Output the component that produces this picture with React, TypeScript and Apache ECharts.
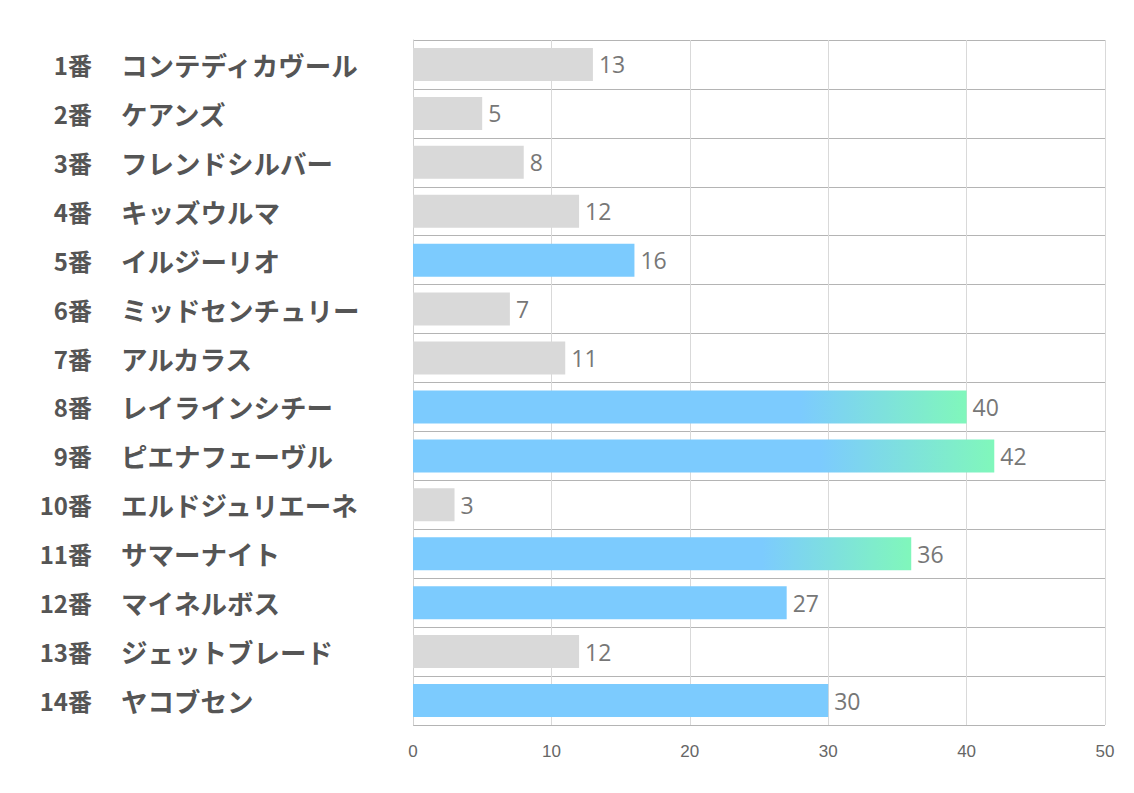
import React, { useEffect, useRef } from "react";
import * as echarts from "echarts";

const numbers = ["1番", "2番", "3番", "4番", "5番", "6番", "7番", "8番", "9番", "10番", "11番", "12番", "13番", "14番"];
const names = ["コンテディカヴール", "ケアンズ", "フレンドシルバー", "キッズウルマ", "イルジーリオ", "ミッドセンチュリー", "アルカラス", "レイラインシチー", "ピエナフェーヴル", "エルドジュリエーネ", "サマーナイト", "マイネルボス", "ジェットブレード", "ヤコブセン"];
const values = [13, 5, 8, 12, 16, 7, 11, 40, 42, 3, 36, 27, 12, 30];
const kinds = ["gray", "gray", "gray", "gray", "blue", "gray", "gray", "grad", "grad", "gray", "grad", "blue", "gray", "blue"];
const xTicks = [0, 10, 20, 30, 40, 50];

const GRAY = "#d9d9d9";
const BLUE = "#7ccbfe";
const GREEN = "#80f7bb";

export default function App() {
  const ref = useRef<HTMLDivElement>(null);
  useEffect(() => {
    const chart = echarts.init(ref.current!, null, { renderer: "svg" });
    const colorFor = (k: string) =>
      k === "gray"
        ? GRAY
        : k === "blue"
        ? BLUE
        : new echarts.graphic.LinearGradient(0, 0, 1, 0, [
            { offset: 0, color: BLUE },
            { offset: 0.7, color: BLUE },
            { offset: 1, color: GREEN },
          ]);
    const labelFont = { fontWeight: "bold", color: "#555", fontFamily: "Noto Sans CJK JP" };
    chart.setOption({
      animation: false,
      grid: { left: 413, right: 29, top: 40, bottom: 68, containLabel: false },
      xAxis: {
        type: "value",
        min: xTicks[0],
        max: xTicks[xTicks.length - 1],
        interval: 10,
        axisLine: { show: false },
        axisTick: { show: false },
        axisLabel: { color: "#666", fontSize: 17, margin: 18, fontFamily: "Liberation Sans Narrow, Liberation Sans, sans-serif" },
        splitLine: { show: true, lineStyle: { color: "#d9d9d9", width: 1 } },
      },
      yAxis: [
        {
          type: "category",
          inverse: true,
          position: "left",
          data: numbers,
          axisLine: { show: true, lineStyle: { color: "#d0d0d0" } },
          axisTick: { show: false },
          splitLine: { show: true, lineStyle: { color: "#b4b4b4", width: 1 } },
          axisLabel: { align: "right", margin: 321, fontSize: 24, ...labelFont },
        },
        {
          type: "category",
          inverse: true,
          position: "left",
          data: names,
          axisLine: { show: false },
          axisTick: { show: false },
          splitLine: { show: false },
          axisLabel: { align: "left", margin: 292, fontSize: 26.5, ...labelFont },
        },
      ],
      series: [
        {
          type: "bar",
          yAxisIndex: 0,
          barWidth: 33,
          data: values.map((v, i) => ({ value: v, itemStyle: { color: colorFor(kinds[i]) } })),
          label: {
            show: true,
            position: "right",
            distance: 6,
            color: "#777",
            fontSize: 23,
            fontFamily: "Open Sans, sans-serif",
          },
        },
      ],
    });
    return () => chart.dispose();
  }, []);
  return <div ref={ref} style={{ width: 1134, height: 793, position: "absolute", left: 0, top: 0 }} />;
}
